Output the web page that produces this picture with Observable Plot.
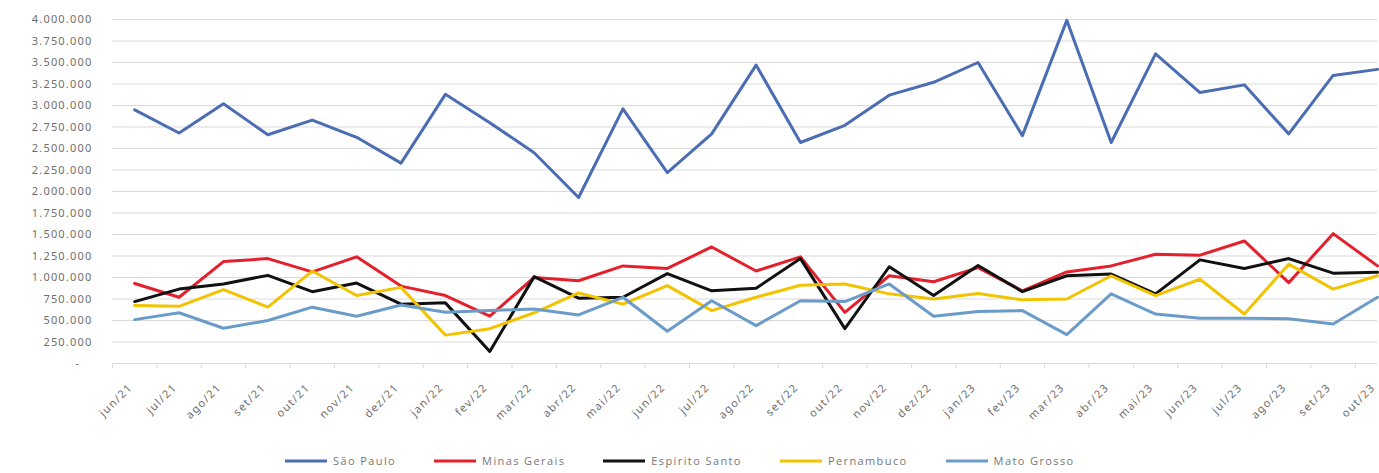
<!DOCTYPE html>
<html><head><meta charset="utf-8">
<script src="https://cdn.jsdelivr.net/npm/d3@7"></script>
<script src="https://cdn.jsdelivr.net/npm/@observablehq/plot@0.6"></script>
<style>
body{margin:0;background:#fff;font-family:"Open Sans",sans-serif;}
#chart svg{display:block;}
g[aria-label="y-axis tick label"] text{letter-spacing:1.2px;}
g[aria-label="x-axis tick label"] text{letter-spacing:1.4px;}
#legend{display:flex;align-items:center;height:25px;padding-left:285px;font-size:11px;color:#777;letter-spacing:1.4px;}
#legend .item{display:flex;align-items:center;margin-right:38px;}
#legend svg{margin-right:6px;}
</style>
</head><body>
<div id="chart"></div>
<div id="legend"></div>
<script>
const months = ["jun/21","jul/21","ago/21","set/21","out/21","nov/21","dez/21","jan/22","fev/22","mar/22","abr/22","mai/22","jun/22","jul/22","ago/22","set/22","out/22","nov/22","dez/22","jan/23","fev/23","mar/23","abr/23","mai/23","jun/23","jul/23","ago/23","set/23","out/23"];
const saoPaulo = [2950000,2680000,3020000,2660000,2830000,2630000,2330000,3130000,2800000,2450000,1930000,2960000,2220000,2670000,3470000,2570000,2770000,3120000,3270000,3500000,2650000,3990000,2570000,3600000,3150000,3240000,2670000,3350000,3420000];
const minasGerais = [930000,770000,1185000,1220000,1065000,1240000,900000,790000,550000,1000000,962000,1135000,1105000,1355000,1075000,1240000,595000,1020000,950000,1115000,845000,1065000,1135000,1270000,1260000,1425000,940000,1510000,1135000];
const espiritoSanto = [720000,865000,925000,1025000,835000,935000,690000,705000,140000,1010000,760000,770000,1045000,845000,875000,1220000,405000,1125000,790000,1140000,835000,1020000,1040000,810000,1205000,1105000,1220000,1050000,1060000];
const pernambuco = [675000,665000,860000,655000,1075000,790000,885000,330000,405000,590000,820000,690000,905000,615000,770000,910000,925000,810000,750000,815000,740000,750000,1020000,790000,980000,575000,1155000,865000,1020000];
const matoGrosso = [510000,590000,410000,500000,655000,550000,680000,595000,615000,635000,565000,770000,375000,730000,440000,730000,720000,925000,550000,605000,615000,335000,810000,575000,525000,525000,520000,460000,770000];
const seriesNames = ["São Paulo","Minas Gerais","Espírito Santo","Pernambuco","Mato Grosso"];
const seriesColors = ["#4a6db3","#e3202b","#111111","#f2c300","#6b9cc9"];
const yTicks = [0,250000,500000,750000,1000000,1250000,1500000,1750000,2000000,2250000,2500000,2750000,3000000,3250000,3500000,3750000,4000000];

const seriesValues = [saoPaulo, minasGerais, espiritoSanto, pernambuco, matoGrosso];
const table = seriesNames.flatMap((s, k) => seriesValues[k].map((v, i) => ({series: s, i, value: v})));
const idx = months.map((_, i) => i);
const bounds = months.map((_, i) => i - 0.5);
const loc = d3.formatLocale({decimal: ",", thousands: ".", grouping: [3], currency: ["R$", ""]});
const fmt = loc.format(",d");

const plot = Plot.plot({
  width: 1379, height: 448,
  marginLeft: 112, marginRight: 2, marginTop: 19, marginBottom: 85,
  x: {type: "linear", domain: [-0.5, months.length - 1], label: null},
  y: {domain: [0, 4000000], label: null},
  color: {domain: seriesNames, range: seriesColors},
  marks: [
    Plot.ruleY(yTicks, {stroke: "#d9d9d9", strokeWidth: 1.2}),
    Plot.ruleX(bounds, {y1: 0, y2: 0, insetBottom: -5, stroke: "#d9d9d9"}),
    Plot.axisY({ticks: yTicks, tickFormat: d => d === 0 ? "-\u00a0\u00a0\u00a0" : fmt(d), tickSize: 0, tickPadding: 20, fontSize: 11, fill: "#6e6e6e", label: null}),
    Plot.axisX({ticks: idx, tickFormat: i => months[i], tickRotate: -45, tickSize: 0, tickPadding: 22, dx: -4, fontSize: 11, fill: "#6e6e6e", label: null}),
    Plot.lineY(table, {x: "i", y: "value", z: "series", stroke: "series", strokeWidth: 3, strokeLinejoin: "round"})
  ]
});
document.getElementById("chart").appendChild(plot);

const legend = document.getElementById("legend");
seriesNames.forEach((s, k) => {
  const item = document.createElement("div");
  item.className = "item";
  item.innerHTML = `<svg width="42" height="6"><line x1="0" x2="42" y1="3" y2="3" stroke="${seriesColors[k]}" stroke-width="3"/></svg><span>${s}</span>`;
  legend.appendChild(item);
});
</script>
</body></html>
